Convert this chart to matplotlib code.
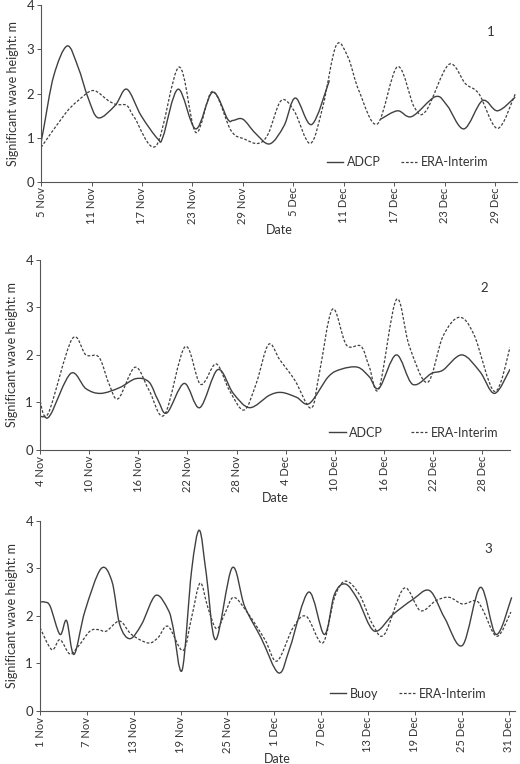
import matplotlib
matplotlib.use("Agg")
import matplotlib.pyplot as plt
import matplotlib.dates as mdates
from matplotlib.path import Path
from matplotlib.patches import PathPatch
from matplotlib.lines import Line2D
import numpy as np
import datetime as dt

plt.rcParams['font.family'] = ['Lato', 'DejaVu Sans']

# panel 1: days after 5 Nov
p1_start = dt.datetime(2011, 11, 5)
p1_adcp_d = [0, 0.3, 1.5, 3.1, 4.4, 5.6, 6.8, 8.8, 10.2, 11.9, 13.9, 14.5, 16.3, 18.4, 20.4,
             22.2, 22.8, 24.0, 25.5, 27.2, 28.9, 30.25, 32.2, 34.3,
             34.4,
             40.4, 42.4, 44.1, 46.9, 48.3, 50.3, 52.5, 54.3, 56.4]
p1_adcp_v = [0.9, 1.2, 2.4, 3.08, 2.6, 1.9, 1.45, 1.73, 2.1, 1.5, 0.97, 1.02, 2.1, 1.2, 2.03,
             1.42, 1.39, 1.42, 1.1, 0.86, 1.27, 1.9, 1.3, 2.3,
             np.nan,
             1.42, 1.61, 1.48, 1.93, 1.73, 1.2, 1.84, 1.61, 1.92]
p1_era_d = [0, 2.85, 4.4, 6.2, 8.0, 9.0, 10.2, 11.1, 13.7, 16.4, 18.4, 20.4, 22.6, 24.2,
            25.8, 27.0, 28.55, 30.1, 32.0, 33.5, 35.1, 36.5, 37.8, 40.0, 42.4, 44.4, 45.8,
            48.5, 50.5, 52.1, 54.3, 56.4]
p1_era_v = [0.78, 1.54, 1.84, 2.07, 1.84, 1.75, 1.73, 1.46, 0.82, 2.6, 1.12, 2.05, 1.16, 0.97,
            0.87, 1.08, 1.84, 1.61, 0.87, 1.69, 3.09, 2.83, 2.07, 1.31, 2.61, 1.69, 1.61,
            2.66, 2.22, 1.99, 1.21, 1.99]

# panel 2: days after 4 Nov
p2_start = dt.datetime(2012, 11, 4)
p2_adcp_d = [0, 0.5, 1.3, 3.75, 5.6, 7.4, 9.7, 11.7, 13.3, 14.4, 15.5, 17.6, 19.5, 21.7, 23.6,
             25.6, 28.0, 29.5, 31.3, 32.9, 35.2, 36.8, 38.8, 40.2, 41.4, 43.5, 45.5, 47.8,
             49.2, 51.5, 53.7, 55.5, 57.4]
p2_adcp_v = [0.71, 0.7, 0.75, 1.61, 1.29, 1.19, 1.31, 1.5, 1.43, 1.05, 0.78, 1.4, 0.89, 1.69, 1.19,
             0.89, 1.15, 1.21, 1.11, 0.98, 1.54, 1.7, 1.74, 1.54, 1.3, 2.0, 1.38, 1.61,
             1.68, 2.0, 1.65, 1.19, 1.7]
p2_era_d = [0, 1.0, 3.9, 5.6, 7.2, 8.4, 9.55, 11.6, 13.3, 15.2, 17.7, 19.6, 21.5, 23.1,
            24.9, 26.4, 27.9, 29.3, 31.1, 33.1, 34.1, 35.7, 37.4, 39.2, 40.2, 41.4, 43.5,
            45.1, 47.3, 49.2, 51.2, 53.0, 55.5, 57.4]
p2_era_v = [1.02, 0.77, 2.33, 2.0, 1.95, 1.4, 1.08, 1.74, 1.26, 0.74, 2.17, 1.38, 1.81, 1.26,
            0.84, 1.4, 2.22, 1.89, 1.47, 0.88, 1.61, 2.96, 2.21, 2.18, 1.75, 1.3, 3.16,
            2.18, 1.42, 2.39, 2.79, 2.42, 1.23, 2.16]

# panel 3: days after 1 Nov
p3_start = dt.datetime(2012, 11, 1)
p3_buoy_d = [0, 0.6, 1.3, 2.55, 3.4, 4.35, 5.75, 7.8, 9.2, 10.2, 11.5, 13.0, 14.8, 16.4, 17.05,
             18.2, 19.4, 20.4, 21.3, 22.5, 24.6, 26.2, 28.3, 30.55, 32.0, 34.4, 36.4, 37.7,
             39.1, 40.7, 42.8, 45.2, 47.7, 49.9, 51.8, 54.1, 56.4, 58.4, 60.4]
p3_buoy_v = [2.29, 2.29, 2.2, 1.61, 1.9, 1.19, 2.1, 2.99, 2.73, 1.82, 1.52, 1.82, 2.43, 2.13, 1.75,
             0.86, 2.94, 3.8, 2.87, 1.5, 3.01, 2.2, 1.54, 0.8, 1.33, 2.5, 1.61, 2.45,
             2.67, 2.34, 1.68, 2.03, 2.34, 2.53, 1.96, 1.38, 2.6, 1.61, 2.39]
p3_era_d = [0, 1.5, 2.55, 3.8, 4.9, 6.4, 7.5, 8.5, 10.2, 11.7, 13.85, 15.1, 16.4, 18.3,
            19.4, 20.5, 21.5, 22.6, 23.7, 24.8, 26.6, 28.8, 30.35, 32.4, 34.1, 36.2, 37.7,
            39.1, 40.9, 42.6, 44.1, 46.6, 48.7, 50.7, 52.4, 54.1, 55.8, 56.7, 58.5, 60.3]
p3_era_v = [1.75, 1.29, 1.5, 1.2, 1.36, 1.68, 1.71, 1.68, 1.89, 1.61, 1.43, 1.54, 1.78, 1.27,
            1.96, 2.69, 2.17, 1.73, 2.06, 2.39, 2.06, 1.5, 1.05, 1.75, 1.99, 1.43, 2.38,
            2.73, 2.45, 1.82, 1.61, 2.58, 2.11, 2.32, 2.39, 2.25, 2.32, 2.13, 1.57, 2.08]

panels = [
    dict(start=p1_start, end_days=56.6,
         a=(p1_adcp_d, p1_adcp_v, "ADCP"), b=(p1_era_d, p1_era_v, "ERA-Interim"),
         label="1", rect=[0.079, 0.762, 0.915, 0.231], leg=(0.94, 0.11), cs=1.6),
    dict(start=p2_start, end_days=57.4,
         a=(p2_adcp_d, p2_adcp_v, "ADCP"), b=(p2_era_d, p2_era_v, "ERA-Interim"),
         label="2", rect=[0.077, 0.411, 0.904, 0.249], leg=(0.975, 0.09), cs=2.2),
    dict(start=p3_start, end_days=60.8,
         a=(p3_buoy_d, p3_buoy_v, "Buoy"), b=(p3_era_d, p3_era_v, "ERA-Interim"),
         label="3", rect=[0.077, 0.0694, 0.913, 0.249], leg=(0.94, 0.09), cs=1.6),
]


def smooth_path(x, y):
    # smoothed line through the points (like a spreadsheet "smoothed line")
    verts, codes = [], []
    x = np.asarray(x, float)
    y = np.asarray(y, float)
    ok = ~np.isnan(y)
    runs, cur = [], []
    for i in range(len(x)):
        if ok[i]:
            cur.append((x[i], y[i]))
        elif cur:
            runs.append(cur)
            cur = []
    if cur:
        runs.append(cur)
    for r in runs:
        P = np.array(r)
        Q = np.vstack([P[0], P, P[-1]])
        verts.append(P[0])
        codes.append(Path.MOVETO)
        for i in range(1, len(Q) - 2):
            c1 = Q[i] + (Q[i + 1] - Q[i - 1]) / 6
            c2 = Q[i + 1] - (Q[i + 2] - Q[i]) / 6
            verts += [c1, c2, Q[i + 1]]
            codes += [Path.CURVE4] * 3
    return Path(verts, codes)


col = "#404040"
solid = dict(color=col, lw=1.0, ls="-")
dashed = dict(color=col, lw=0.9, ls=(0, (2.2, 1.4)))

fig = plt.figure(figsize=(5.2, 7.64), dpi=100)

for p in panels:
    ax = fig.add_axes(p["rect"])
    x0 = mdates.date2num(p["start"])
    handles = []
    for (d, v, name), st in [(p["a"], solid), (p["b"], dashed)]:
        path = smooth_path(x0 + np.array(d), v)
        ax.add_patch(PathPatch(path, fill=False, edgecolor=st["color"], lw=st["lw"],
                               ls=st["ls"], transform=ax.transData))
        handles.append(Line2D([], [], **st, label=name))
    ax.set_xlim(x0, x0 + p["end_days"])
    ax.set_ylim(0, 4)
    ax.set_yticks([0, 1, 2, 3, 4])
    ticks = [x0 + 6 * i for i in range(11) if 6 * i <= p["end_days"]]
    ax.set_xticks(ticks)
    ax.set_xticklabels([mdates.num2date(t).strftime("%d %b").lstrip("0") for t in ticks],
                       rotation=90)
    for s in ["top", "right"]:
        ax.spines[s].set_visible(False)
    for s in ["left", "bottom"]:
        ax.spines[s].set_color("#555555")
        ax.spines[s].set_linewidth(0.8)
    ax.tick_params(direction="out", length=3, width=0.7, colors="#555555",
                   labelcolor="#333333", labelsize=8, pad=1)
    ax.tick_params(axis="y", labelsize=9.5, pad=2)
    ax.set_ylabel("Significant wave height: m", fontsize=9, color="#333333", labelpad=5)
    ax.set_xlabel("Date", fontsize=9, color="#333333", labelpad=0)
    ax.text(0.945, 0.85, p["label"], transform=ax.transAxes, fontsize=9.5, color="#333333",
            ha="center", va="center")
    ax.legend(handles=handles, loc="center right", bbox_to_anchor=p["leg"], ncol=2,
              frameon=False, fontsize=9, handlelength=1.3, handletextpad=0.3,
              columnspacing=p["cs"], borderpad=0, borderaxespad=0, labelcolor="#333333")

fig.savefig("out.png", dpi=100)
